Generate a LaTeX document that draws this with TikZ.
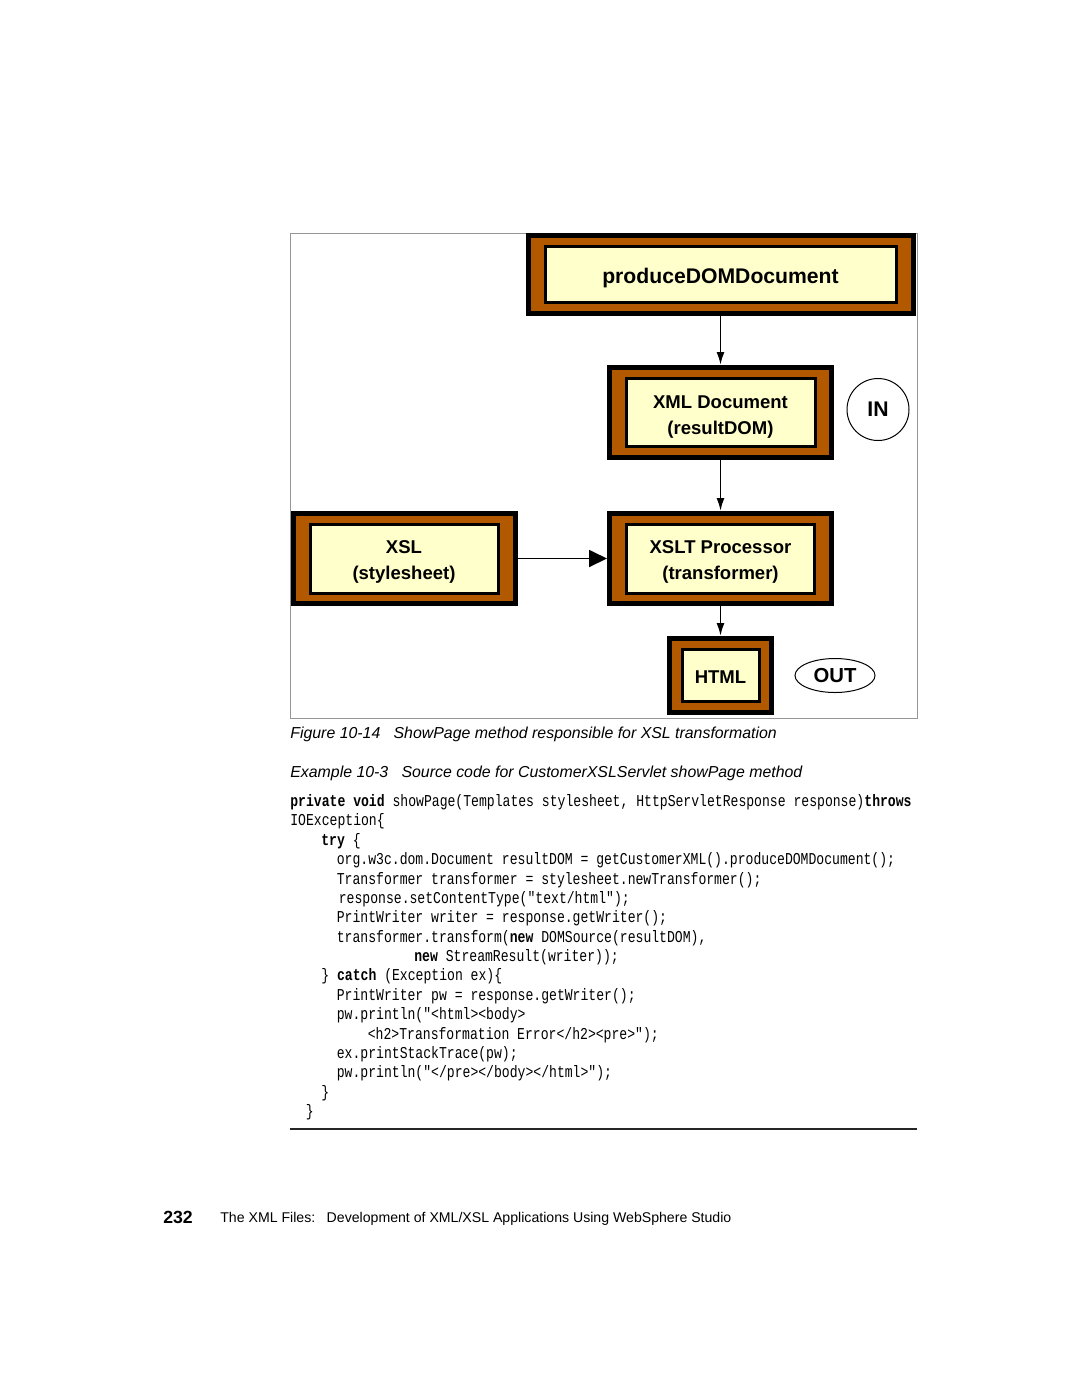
\documentclass[tikz,border=0pt]{standalone}
\usepackage{fontspec}
\setmainfont{Liberation Sans}
\newfontfamily\codefont[FakeStretch=0.79]{Liberation Mono}
\usetikzlibrary{arrows.meta,positioning,shapes.geometric}

\newcommand{\pxu}{0.5667pt}
\definecolor{boxbrown}{RGB}{178,89,0}
\definecolor{boxcream}{RGB}{255,255,204}
\definecolor{framegray}{RGB}{150,150,150}

\tikzset{
  outerbox/.style={draw=black, line width=5*\pxu, fill=boxbrown, inner sep=0pt},
  innerbox/.style={draw=black, line width=3*\pxu, fill=boxcream, inner sep=0pt},
  boxlabel/.style={inner sep=0pt, align=center, font=\fontsize{10.5}{14.7}\selectfont\bfseries},
  flow/.style={-{Latex[length=13*\pxu,width=8*\pxu]}, line width=1.8*\pxu},
  bigflow/.style={-{Triangle[length=18*\pxu,width=17*\pxu]}, line width=1.8*\pxu},
  tag/.style={draw=black, line width=1*\pxu, inner sep=0pt, font=\fontsize{11.5}{13}\selectfont\bfseries},
  code/.style={anchor=base west, inner sep=0pt, font=\codefont\fontsize{9.4}{11}\selectfont},
  capt/.style={anchor=base west, inner sep=0pt, font=\fontsize{9}{11}\selectfont\itshape},
}

\begin{document}
\begin{tikzpicture}[x=\pxu, y=-\pxu]
\useasboundingbox (0,0) rectangle (1080,1397);

% figure frame
\draw[framegray, line width=1*\pxu] (290,233) rectangle (917,718);

% the boxes
\node[outerbox, minimum width=385*\pxu, minimum height=78*\pxu] (produce) at (720.5,274.5) {};
\node[innerbox, minimum width=351*\pxu, minimum height=56*\pxu] (producein) at (produce) {};
\node[boxlabel, font=\fontsize{12}{14}\selectfont\bfseries] (producetxt) at ([yshift=-4*\pxu]produce) {produceDOMDocument};

\node[outerbox, minimum width=222*\pxu, minimum height=90*\pxu] (xmldoc) at (720.5,412.5) {};
\node[innerbox, minimum width=189*\pxu, minimum height=68*\pxu] (xmldocin) at (xmldoc) {};
\node[boxlabel] (xmldoctxt) at ([yshift=-5*\pxu]xmldoc) {XML Document\\(resultDOM)};

\node[outerbox, minimum width=222*\pxu, minimum height=90*\pxu] (xslt) at (720.5,558.5) {};
\node[innerbox, minimum width=188*\pxu, minimum height=69*\pxu] (xsltin) at (xslt) {};
\node[boxlabel] (xslttxt) at ([yshift=-3*\pxu]xslt) {XSLT Processor\\(transformer)};

\node[outerbox, minimum width=222*\pxu, minimum height=90*\pxu] (xsl) at (404,558.5) {};
\node[innerbox, minimum width=188*\pxu, minimum height=69*\pxu] (xslin) at (xsl) {};
\node[boxlabel] (xsltxt) at ([yshift=-3*\pxu]xsl) {XSL\\(stylesheet)};

\node[outerbox, minimum width=102*\pxu, minimum height=74*\pxu] (html) at (720.5,675.5) {};
\node[innerbox, minimum width=77*\pxu, minimum height=52*\pxu] (htmlin) at (html) {};
\node[boxlabel] (htmltxt) at ([yshift=-2*\pxu]html) {HTML};

\node[tag, circle, minimum size=62*\pxu, font=\fontsize{12}{14}\selectfont\bfseries] (in) at (878,409.5) {IN};
\node[tag, ellipse, minimum width=80*\pxu, minimum height=34*\pxu] (out) at (835,675.5) {OUT};

% connectors
\draw[flow] (produce.south) -- (xmldoc.north);
\draw[flow] (xmldoc.south) -- (xslt.north);
\draw[flow] (xslt.south) -- (html.north);
\draw[bigflow] (xsl.east) -- (xslt.west);

% captions
\node[capt] (figcap) at (290,738) {Figure 10-14\hspace{7.5pt}ShowPage method responsible for XSL transformation};
\node[capt] (excap) at (290,777) {Example 10-3\hspace{7.5pt}Source code for CustomerXSLServlet showPage method};

% source listing
\node[code] (code1) at (290,806.5) {\textbf{private void} showPage(Templates stylesheet, HttpServletResponse response)\textbf{throws}};
\node[code] (code2) at (290,825.9) {IOException\{};
\node[code] (code3) at (321,845.3) {\textbf{try} \{};
\node[code] (code4) at (336.5,864.6) {org.w3c.dom.Document resultDOM = getCustomerXML().produceDOMDocument();};
\node[code] (code5) at (336.5,884) {Transformer transformer = stylesheet.newTransformer();};
\node[code] (code6) at (338.5,903.4) {response.setContentType("text/html");};
\node[code] (code7) at (336.5,922.8) {PrintWriter writer = response.getWriter();};
\node[code] (code8) at (336.5,942.1) {transformer.transform(\textbf{new} DOMSource(resultDOM),};
\node[code] (code9) at (414,961.5) {\textbf{new} StreamResult(writer));};
\node[code] (code10) at (321,980.9) {\} \textbf{catch} (Exception ex)\{};
\node[code] (code11) at (336.5,1000.3) {PrintWriter pw = response.getWriter();};
\node[code] (code12) at (336.5,1019.6) {pw.println("<html><body>};
\node[code] (code13) at (367.5,1039) {<h2>Transformation Error</h2><pre>");};
\node[code] (code14) at (336.5,1058.4) {ex.printStackTrace(pw);};
\node[code] (code15) at (336.5,1077.8) {pw.println("</pre></body></html>");};
\node[code] (code16) at (321,1097.1) {\}};
\node[code] (code17) at (305.5,1116.5) {\}};

\draw[black!85, line width=1.5*\pxu] (290,1129) -- (917,1129);

% footer
\node[anchor=base west, inner sep=0pt, font=\fontsize{10}{12}\selectfont\bfseries] (pagenum) at (163,1223) {232};
\node[anchor=base west, inner sep=0pt, font=\fontsize{8}{10}\selectfont] (runhead) at (220,1222)
  {The XML Files:\hspace{6.5pt}Development of XML/XSL Applications Using WebSphere Studio};
\end{tikzpicture}
\end{document}
